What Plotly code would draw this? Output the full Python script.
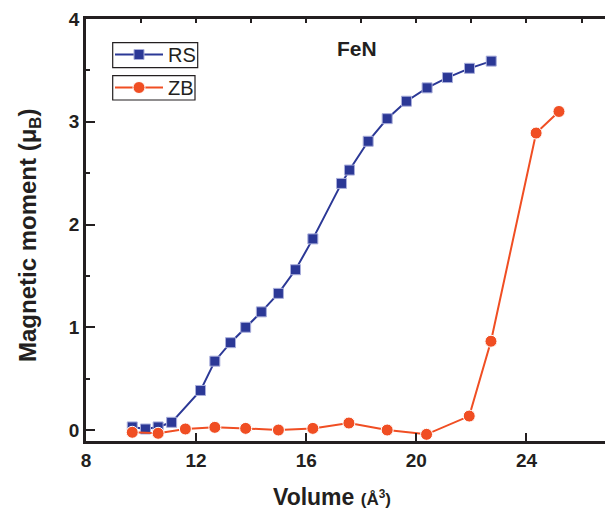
import plotly.graph_objects as go

# Data
rs_volume = [9.68, 10.16, 10.62, 11.11, 12.16, 12.68, 13.25, 13.80, 14.37, 14.99,
             15.61, 16.24, 17.28, 17.57, 18.25, 18.94, 19.64, 20.39, 21.13, 21.93, 22.72]
rs_moment = [0.03, 0.01, 0.03, 0.075, 0.385, 0.67, 0.85, 1.00, 1.15, 1.33,
             1.56, 1.86, 2.40, 2.53, 2.81, 3.03, 3.20, 3.33, 3.43, 3.52, 3.59]

zb_volume = [9.68, 10.62, 11.61, 12.68, 13.80, 14.99, 16.24, 17.55, 18.94, 20.37,
             21.92, 22.71, 24.35, 25.18]
zb_moment = [-0.022, -0.032, 0.01, 0.026, 0.016, 0.0, 0.016, 0.068, 0.0, -0.042,
             0.136, 0.864, 2.89, 3.10]

x_ticks = [8, 12, 16, 20, 24]
y_ticks = [0, 1, 2, 3, 4]

BLUE = "#2B3896"
ORANGE = "#F04E23"
INK = "#231F20"
FONT = "Liberation Sans, Arial, sans-serif"

fig = go.Figure()
fig.add_trace(go.Scatter(
    x=rs_volume, y=rs_moment, mode="lines+markers", name="RS",
    line=dict(color=BLUE, width=2),
    marker=dict(symbol="square", size=10, color=BLUE, line=dict(color="#A9AEDB", width=1)),
    legend="legend",
))
fig.add_trace(go.Scatter(
    x=zb_volume, y=zb_moment, mode="lines+markers", name="ZB",
    line=dict(color=ORANGE, width=2),
    marker=dict(symbol="circle", size=12, color=ORANGE, line=dict(color="white", width=1)),
    legend="legend2",
))

L, R, T, B = 86, 0, 19, 73
W, H = 605, 514
pw, ph = W - L - R, H - T - B
xr = [8, 8 + pw / 27.53]
yr = [(430 - 441) / 103.0, 4.0]

def px(x):
    return (x - L) / pw

def py(y):
    return (H - B - y) / ph

legend_common = dict(
    font=dict(family=FONT, size=20, color=INK),
    bgcolor="rgba(0,0,0,0)",
    borderwidth=0,
    xanchor="left", yanchor="top",
    itemsizing="trace",
    itemwidth=48,
    tracegroupgap=0,
)

shapes = [
    dict(type="rect", xref="paper", yref="paper",
         x0=px(112.7), x1=px(197.7), y0=py(67.7), y1=py(42.7),
         line=dict(color=INK, width=1.2)),
    dict(type="rect", xref="paper", yref="paper",
         x0=px(112.7), x1=px(195), y0=py(100), y1=py(75.7),
         line=dict(color=INK, width=1.2)),
]

fig.update_layout(
    width=W, height=H,
    margin=dict(l=L, r=R, t=T, b=B),
    paper_bgcolor="white", plot_bgcolor="white",
    font=dict(family=FONT, color=INK),
    showlegend=True,
    legend=dict(x=px(110), y=py(35), **legend_common),
    legend2=dict(x=px(110), y=py(68), **legend_common),
    shapes=shapes,
    xaxis=dict(
        range=xr, tickmode="array", tickvals=x_ticks, ticktext=[str(v) for v in x_ticks],
        ticks="inside", ticklen=8, tickwidth=2, tickcolor=INK,
        showline=True, linewidth=2.5, linecolor=INK, showgrid=False, zeroline=False,
        tickfont=dict(family=FONT, size=19, color=INK, weight="bold"),
    ),
    xaxis2=dict(
        range=xr, overlaying="x", side="top", anchor="y", dtick=2, tick0=8,
        ticks="inside", ticklen=4, tickwidth=1.5, tickcolor=INK,
        showticklabels=False, showline=True, linewidth=2.5, linecolor=INK,
        showgrid=False, zeroline=False,
    ),
    yaxis=dict(
        range=yr, tickmode="array", tickvals=y_ticks, ticktext=[str(v) for v in y_ticks],
        ticks="inside", ticklen=9, tickwidth=2, tickcolor=INK,
        minor=dict(dtick=0.5, tick0=0, ticks="inside", ticklen=4, tickwidth=1.5, tickcolor=INK),
        showline=True, linewidth=2.5, linecolor=INK, showgrid=False, zeroline=False,
        tickfont=dict(family=FONT, size=19, color=INK, weight="bold"),
    ),
    annotations=[
        dict(text="<b>FeN</b>", xref="paper", yref="paper", x=px(335), y=py(48),
             xanchor="left", yanchor="middle", showarrow=False,
             font=dict(family=FONT, size=21, color=INK)),
        dict(text="<b>Volume</b> <span style='font-size:17px'><b>(Å<sup>3</sup>)</b></span>",
             xref="paper", yref="paper", x=px(332), y=py(497),
             xanchor="center", yanchor="middle", showarrow=False,
             font=dict(family=FONT, size=23, color=INK)),
        dict(text="<b>Magnetic moment (μ<sub>B</sub>)</b>",
             xref="paper", yref="paper", x=px(30), y=py(235),
             xanchor="center", yanchor="middle", showarrow=False, textangle=-90,
             font=dict(family=FONT, size=24, color=INK)),
    ],
)

# invisible trace to activate the top axis
fig.add_trace(go.Scatter(x=[xr[0]], y=[yr[0]], xaxis="x2", mode="markers",
                         marker=dict(opacity=0), showlegend=False, hoverinfo="skip"))

fig.write_html("out.html")
